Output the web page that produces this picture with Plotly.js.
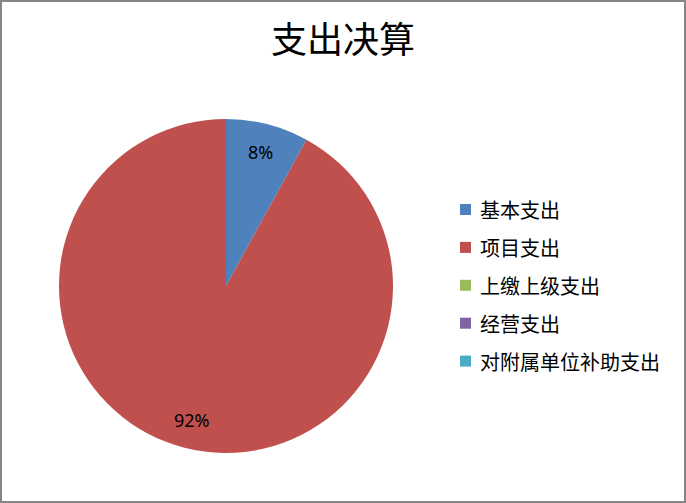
<!DOCTYPE html>
<html>
<head>
<meta charset="utf-8">
<script src="https://cdn.plot.ly/plotly-3.0.1.min.js"></script>
<style>
html,body{margin:0;padding:0;background:#fff;}
#chart{width:682px;height:499px;border:2px solid #868686;}
</style>
</head>
<body>
<div id="chart"></div>
<script>
// Data
var titleText = "支出决算";
var categories = ["基本支出", "项目支出", "上缴上级支出", "经营支出", "对附属单位补助支出"];
var values = [8, 92, 0, 0, 0];
var colors = ["#4F81BD", "#C0504D", "#9BBB59", "#8064A2", "#4BACC6"];

// Layout geometry (pixels inside the chart div)
var W = 682, H = 499;
var cx = 224, cy = 284, R = 167;
var labelFrac = 0.83;
var legX = 458, legTextX = 475.7, legY0 = 207.5, legStep = 37.9, sq = 11;

var total = values.reduce(function(a, b){ return a + b; }, 0);

var annotations = [];
var shapes = [];
var cum = 0;
values.forEach(function(v, i){
  if (v > 0) {
    var th = 2 * Math.PI * (cum + v / 2) / total;
    var px = cx + R * labelFrac * Math.sin(th);
    var py = cy - R * labelFrac * Math.cos(th);
    annotations.push({
      xref: "paper", yref: "paper",
      x: px / W, y: 1 - py / H,
      xanchor: "center", yanchor: "middle",
      text: Math.round(v / total * 100) + "%",
      showarrow: false,
      font: {family: "Noto Sans, sans-serif", size: 18, color: "#000"}
    });
  }
  cum += v;
});

categories.forEach(function(c, i){
  var yc = legY0 + i * legStep;
  shapes.push({
    type: "rect", xref: "paper", yref: "paper",
    x0: legX / W, x1: (legX + sq) / W,
    y0: 1 - (yc + sq / 2) / H, y1: 1 - (yc - sq / 2) / H,
    fillcolor: colors[i], line: {width: 0}
  });
  annotations.push({
    xref: "paper", yref: "paper",
    x: legTextX / W, y: 1 - yc / H,
    xanchor: "left", yanchor: "middle",
    text: c, showarrow: false,
    font: {family: "Noto Sans CJK SC, sans-serif", size: 20, color: "#000"}
  });
});

var trace = {
  type: "pie",
  labels: categories,
  values: values,
  marker: {colors: colors, line: {width: 0}},
  sort: false,
  direction: "clockwise",
  rotation: 0,
  textinfo: "none",
  hoverinfo: "label+percent",
  domain: {x: [(cx - R) / W, (cx + R) / W], y: [1 - (cy + R) / H, 1 - (cy - R) / H]}
};

var layout = {
  width: W, height: H,
  margin: {l: 0, r: 0, t: 0, b: 0},
  paper_bgcolor: "#fff",
  showlegend: false,
  title: {
    text: titleText,
    x: 0.5, xanchor: "center",
    yref: "container", y: 1 - 38 / H, yanchor: "middle",
    font: {family: "Noto Sans CJK SC, sans-serif", size: 36, color: "#000"}
  },
  annotations: annotations,
  shapes: shapes
};

Plotly.newPlot("chart", [trace], layout, {displayModeBar: false, staticPlot: true});
</script>
</body>
</html>
